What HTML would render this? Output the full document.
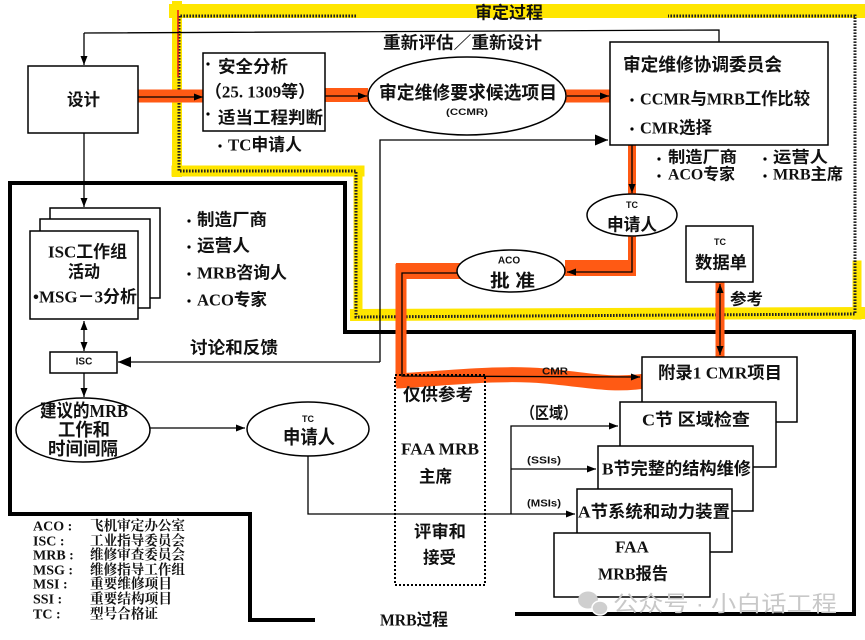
<!DOCTYPE html>
<html><head><meta charset="utf-8"><style>
html,body{margin:0;padding:0;background:#fff;}
svg{display:block;}
.h{font-family:"Liberation Sans","Noto Sans CJK SC",sans-serif;font-weight:bold;}
.s{font-family:"Liberation Serif","Noto Sans CJK SC",serif;font-weight:bold;}
.l{font-family:"Liberation Serif","Noto Serif CJK SC",serif;font-weight:bold;}
text{dominant-baseline:central;fill:#111;}
</style></head><body>
<svg width="865" height="640" viewBox="0 0 865 640" xmlns="http://www.w3.org/2000/svg">
<defs>
<marker id="ar" markerUnits="userSpaceOnUse" markerWidth="9" markerHeight="8" refX="9" refY="4" orient="auto-start-reverse"><path d="M0,0.5 L9,4 L0,7.5z" fill="#000"/></marker>
<marker id="ab" markerUnits="userSpaceOnUse" markerWidth="13" markerHeight="11" refX="13" refY="5.5" orient="auto-start-reverse"><path d="M0,0 L13,5.5 L0,11z" fill="#000"/></marker>
</defs>
<rect width="865" height="640" fill="#fff"/>

<!-- yellow highlight -->
<g stroke="#ffe600" fill="none" stroke-linecap="square">
<line x1="176" y1="11" x2="860" y2="11" stroke-width="14"/>
<line x1="177" y1="6" x2="177" y2="172" stroke-width="10"/>
<line x1="177" y1="171" x2="359" y2="171" stroke-width="11"/>
<line x1="358" y1="171" x2="358" y2="315" stroke-width="9"/>
<line x1="356" y1="315" x2="859" y2="313" stroke-width="12"/>
<line x1="857" y1="265" x2="857" y2="315" stroke-width="9"/>
</g>
<!-- checkered border -->
<path d="M356,16 L179,16 L179,171 L356,171 L356,317 L855,314 L855,16 L668,16" fill="none" stroke="#222" stroke-width="3" stroke-dasharray="1.6 1.4"/>
<line x1="178" y1="10" x2="178" y2="77" stroke="#e8141e" stroke-width="1.5"/>

<!-- thick MRB border -->
<path d="M10,514 L10,183 L345,183 L345,332 L854,332 L854,614 L515,614" fill="none" stroke="#000" stroke-width="4"/>
<path d="M8,514 L250,514 L250,620 L315,620" fill="none" stroke="#000" stroke-width="4"/>

<!-- orange highlights -->
<g stroke="#ff5a14" fill="none">
<line x1="135" y1="96" x2="205" y2="96" stroke-width="13"/>
<line x1="325" y1="95" x2="368" y2="95" stroke-width="14"/>
<line x1="565" y1="96" x2="610" y2="96" stroke-width="13"/>
<line x1="632" y1="143" x2="632" y2="194" stroke-width="8"/>
<line x1="632" y1="236" x2="632" y2="276" stroke-width="8"/>
<line x1="565" y1="268" x2="636" y2="268" stroke-width="16"/>
<line x1="396" y1="271" x2="463" y2="271" stroke-width="16"/>
<line x1="401" y1="264" x2="401" y2="386" stroke-width="11"/>
<path d="M396,381 C450,378 500,372 545,376 S610,386 645,381" stroke-width="15"/>
<line x1="720" y1="282" x2="720" y2="357" stroke-width="9"/>
</g>

<!-- thin loop 重新评估 -->
<path d="M84,33 L719,30 L719,42" fill="none" stroke="#000" stroke-width="1.3"/>
<line x1="84" y1="33" x2="84" y2="65" stroke="#000" stroke-width="1.3" marker-end="url(#ar)"/>

<!-- design box -->
<rect x="28" y="66" width="110" height="67" fill="#fff" stroke="#000" stroke-width="1.5"/>
<text class="h" x="67" y="100" font-size="17" textLength="33" lengthAdjust="spacingAndGlyphs">设计</text>

<!-- arrows top row -->
<g stroke="#000" stroke-width="1.3" fill="none">
<line x1="138" y1="97" x2="203" y2="97" marker-end="url(#ar)"/>
<line x1="325" y1="96" x2="367" y2="96" marker-end="url(#ar)"/>
<line x1="567" y1="96" x2="609" y2="96" marker-end="url(#ar)"/>
</g>

<!-- safety box -->
<rect x="203" y="53" width="122" height="78" fill="#fff" stroke="#000" stroke-width="1.5"/>
<circle cx="208" cy="64" r="1.6" fill="#000"/>
<text class="h" x="218" y="67" font-size="17" textLength="70" lengthAdjust="spacingAndGlyphs">安全分析</text>
<text class="s" x="205" y="92" font-size="17" textLength="110" lengthAdjust="spacingAndGlyphs">（25. 1309等）</text>
<circle cx="208" cy="114" r="1.6" fill="#000"/>
<text class="h" x="218" y="118" font-size="17" textLength="105" lengthAdjust="spacingAndGlyphs">适当工程判断</text>
<circle cx="220" cy="146" r="1.6" fill="#000"/>
<text class="s" x="228" y="145" font-size="17" textLength="74" lengthAdjust="spacingAndGlyphs">TC申请人</text>

<!-- CCMR ellipse -->
<ellipse cx="467" cy="96" rx="99" ry="39" fill="#fff" stroke="#000" stroke-width="1.5"/>
<text class="h" x="379" y="93" font-size="18" textLength="178" lengthAdjust="spacingAndGlyphs">审定维修要求候选项目</text>
<text class="h" x="446" y="112" font-size="9" textLength="42" lengthAdjust="spacingAndGlyphs">(CCMR)</text>

<text class="h" x="475" y="13" font-size="17" textLength="68" lengthAdjust="spacingAndGlyphs">审定过程</text>
<text class="h" x="383" y="43" font-size="17" textLength="159" lengthAdjust="spacingAndGlyphs">重新评估／重新设计</text>

<!-- committee box -->
<rect x="610" y="42" width="218" height="103" fill="#fff" stroke="#000" stroke-width="1.5"/>
<text class="h" x="623" y="65" font-size="18" textLength="159" lengthAdjust="spacingAndGlyphs">审定维修协调委员会</text>
<circle cx="632" cy="100" r="1.6" fill="#000"/>
<text class="s" x="640" y="99" font-size="17" textLength="170" lengthAdjust="spacingAndGlyphs">CCMR与MRB工作比较</text>
<circle cx="632" cy="129" r="1.6" fill="#000"/>
<text class="s" x="640" y="128" font-size="17" textLength="72" lengthAdjust="spacingAndGlyphs">CMR选择</text>

<circle cx="659" cy="159" r="1.6" fill="#000"/>
<text class="h" x="668" y="158" font-size="16" textLength="69" lengthAdjust="spacingAndGlyphs">制造厂商</text>
<circle cx="765" cy="159" r="1.6" fill="#000"/>
<text class="h" x="773" y="158" font-size="16" textLength="55" lengthAdjust="spacingAndGlyphs">运营人</text>
<circle cx="659" cy="176" r="1.6" fill="#000"/>
<text class="s" x="668" y="175" font-size="16" textLength="67" lengthAdjust="spacingAndGlyphs">ACO专家</text>
<circle cx="765" cy="176" r="1.6" fill="#000"/>
<text class="s" x="773" y="175" font-size="16" textLength="70" lengthAdjust="spacingAndGlyphs">MRB主席</text>

<!-- feedback line -->
<path d="M380,362 L380,140 L608,140" fill="none" stroke="#000" stroke-width="1.3" marker-end="url(#ab)"/>
<line x1="380" y1="362" x2="118" y2="362" stroke="#000" stroke-width="1.3" marker-end="url(#ab)"/>

<!-- upper TC ellipse -->
<line x1="632" y1="145" x2="632" y2="193" stroke="#000" stroke-width="1.3" marker-end="url(#ar)"/>
<ellipse cx="632" cy="215" rx="45" ry="21" fill="#fff" stroke="#000" stroke-width="1.5"/>
<text class="h" x="632" y="205" font-size="9" text-anchor="middle">TC</text>
<text class="h" x="607" y="225" font-size="17" textLength="50" lengthAdjust="spacingAndGlyphs">申请人</text>
<path d="M632,237 L632,272 L567,272" fill="none" stroke="#000" stroke-width="1.3" marker-end="url(#ar)"/>

<!-- ACO ellipse -->
<ellipse cx="511" cy="271" rx="54" ry="21" fill="#fff" stroke="#000" stroke-width="1.5"/>
<text class="h" x="509" y="261" font-size="10" text-anchor="middle">ACO</text>
<text class="h" x="490" y="281" font-size="18" textLength="45" lengthAdjust="spacingAndGlyphs">批 准</text>
<path d="M457,273 L402,273 L402,376 L640,377" fill="none" stroke="#000" stroke-width="1.3" marker-end="url(#ar)"/>
<text class="h" x="542" y="372" font-size="10" textLength="26" lengthAdjust="spacingAndGlyphs">CMR</text>

<!-- TC data box -->
<rect x="686" y="226" width="67" height="56" fill="#fff" stroke="#000" stroke-width="1.5"/>
<text class="h" x="720" y="242" font-size="9" text-anchor="middle">TC</text>
<text class="h" x="695" y="263" font-size="17" textLength="52" lengthAdjust="spacingAndGlyphs">数据单</text>
<line x1="720" y1="284" x2="720" y2="355" stroke="#000" stroke-width="1.3" marker-start="url(#ar)" marker-end="url(#ar)"/>
<text class="h" x="730" y="300" font-size="16" textLength="33" lengthAdjust="spacingAndGlyphs">参考</text>

<!-- ISC stacked boxes -->
<line x1="84" y1="133" x2="84" y2="207" stroke="#000" stroke-width="1.3" marker-end="url(#ar)"/>
<rect x="50" y="208" width="110" height="90" fill="#fff" stroke="#000" stroke-width="1.5"/>
<rect x="40" y="219" width="110" height="89" fill="#fff" stroke="#000" stroke-width="1.5"/>
<rect x="30" y="231" width="108" height="88" fill="#fff" stroke="#000" stroke-width="1.5"/>
<text class="s" x="48" y="252" font-size="17" textLength="79" lengthAdjust="spacingAndGlyphs">ISC工作组</text>
<text class="h" x="68" y="272" font-size="17" textLength="32" lengthAdjust="spacingAndGlyphs">活动</text>
<text class="s" x="33" y="297" font-size="17" textLength="104" lengthAdjust="spacingAndGlyphs">•MSG－3分析</text>

<circle cx="189" cy="221" r="1.6" fill="#000"/>
<text class="h" x="197" y="220" font-size="17" textLength="70" lengthAdjust="spacingAndGlyphs">制造厂商</text>
<circle cx="189" cy="247" r="1.6" fill="#000"/>
<text class="h" x="197" y="246" font-size="17" textLength="53" lengthAdjust="spacingAndGlyphs">运营人</text>
<circle cx="189" cy="274" r="1.6" fill="#000"/>
<text class="s" x="197" y="273" font-size="17" textLength="90" lengthAdjust="spacingAndGlyphs">MRB咨询人</text>
<circle cx="189" cy="301" r="1.6" fill="#000"/>
<text class="s" x="197" y="300" font-size="17" textLength="70" lengthAdjust="spacingAndGlyphs">ACO专家</text>

<text class="h" x="190" y="348" font-size="17" textLength="88" lengthAdjust="spacingAndGlyphs">讨论和反馈</text>

<line x1="84" y1="321" x2="84" y2="351" stroke="#000" stroke-width="1.3" marker-start="url(#ar)" marker-end="url(#ar)"/>
<rect x="50" y="352" width="67" height="21" fill="#fff" stroke="#000" stroke-width="1.5"/>
<text class="h" x="84" y="362" font-size="10" text-anchor="middle">ISC</text>
<line x1="84" y1="373" x2="84" y2="397" stroke="#000" stroke-width="1.3" marker-end="url(#ar)"/>

<!-- 建议 ellipse -->
<ellipse cx="83" cy="430" rx="67" ry="32" fill="#fff" stroke="#000" stroke-width="1.5"/>
<text class="s" x="40" y="411" font-size="18" textLength="88" lengthAdjust="spacingAndGlyphs">建议的MRB</text>
<text class="h" x="58" y="430" font-size="18" textLength="52" lengthAdjust="spacingAndGlyphs">工作和</text>
<text class="h" x="48" y="449" font-size="18" textLength="70" lengthAdjust="spacingAndGlyphs">时间间隔</text>
<line x1="150" y1="428" x2="245" y2="428" stroke="#000" stroke-width="1.3" marker-end="url(#ar)"/>

<!-- lower TC ellipse -->
<ellipse cx="308" cy="429" rx="61" ry="27" fill="#fff" stroke="#000" stroke-width="1.5"/>
<text class="h" x="308" y="419" font-size="9" text-anchor="middle">TC</text>
<text class="h" x="283" y="438" font-size="19" textLength="52" lengthAdjust="spacingAndGlyphs">申请人</text>

<!-- right stacked boxes -->
<rect x="642" y="357" width="155" height="65" fill="#fff" stroke="#000" stroke-width="1.5"/>
<text class="s" x="658" y="373" font-size="17" textLength="124" lengthAdjust="spacingAndGlyphs">附录1 CMR项目</text>
<rect x="620" y="402" width="156" height="65" fill="#fff" stroke="#000" stroke-width="1.5"/>
<text class="s" x="642" y="420" font-size="17" textLength="108" lengthAdjust="spacingAndGlyphs">C节 区域检查</text>
<rect x="598" y="446" width="155" height="65" fill="#fff" stroke="#000" stroke-width="1.5"/>
<text class="s" x="602" y="469" font-size="17" textLength="149" lengthAdjust="spacingAndGlyphs">B节完整的结构维修</text>
<rect x="577" y="489" width="155" height="63" fill="#fff" stroke="#000" stroke-width="1.5"/>
<text class="s" x="578" y="512" font-size="17" textLength="152" lengthAdjust="spacingAndGlyphs">A节系统和动力装置</text>
<rect x="554" y="533" width="156" height="64" fill="#fff" stroke="#000" stroke-width="1.5"/>
<text class="s" x="632" y="547" font-size="17" text-anchor="middle">FAA</text>
<text class="s" x="598" y="574" font-size="17" textLength="70" lengthAdjust="spacingAndGlyphs">MRB报告</text>

<!-- branch lines -->
<path d="M308,456 L308,514 L575,514" fill="none" stroke="#000" stroke-width="1.3" marker-end="url(#ar)"/>
<path d="M511,514 L511,426 L618,426" fill="none" stroke="#000" stroke-width="1.3" marker-end="url(#ar)"/>
<line x1="511" y1="469" x2="596" y2="469" stroke="#000" stroke-width="1.3" marker-end="url(#ar)"/>
<text class="h" x="521" y="414" font-size="16" textLength="56" lengthAdjust="spacingAndGlyphs">（区域）</text>
<text class="h" x="527" y="461" font-size="10" textLength="34" lengthAdjust="spacingAndGlyphs">(SSIs)</text>
<text class="h" x="527" y="504" font-size="10" textLength="34" lengthAdjust="spacingAndGlyphs">(MSIs)</text>

<!-- dotted box -->
<rect x="395" y="375" width="90" height="210" fill="none" stroke="#000" stroke-width="2" stroke-dasharray="2 2"/>
<text class="h" x="403" y="395" font-size="17" textLength="70" lengthAdjust="spacingAndGlyphs">仅供参考</text>
<text class="s" x="401" y="449" font-size="17" textLength="78" lengthAdjust="spacingAndGlyphs">FAA MRB</text>
<text class="h" x="419" y="477" font-size="17" textLength="33" lengthAdjust="spacingAndGlyphs">主席</text>
<text class="h" x="414" y="532" font-size="17" textLength="52" lengthAdjust="spacingAndGlyphs">评审和</text>
<text class="h" x="423" y="558" font-size="17" textLength="33" lengthAdjust="spacingAndGlyphs">接受</text>

<text class="s" x="380" y="620" font-size="17" textLength="68" lengthAdjust="spacingAndGlyphs">MRB过程</text>

<!-- watermark -->
<g fill="#cfcfcf">
<ellipse cx="588" cy="600" rx="10" ry="8.5"/>
<ellipse cx="600" cy="608" rx="8" ry="7" stroke="#fff" stroke-width="1.5"/>
</g>
<text x="613" y="604" font-size="22" textLength="224" lengthAdjust="spacingAndGlyphs" style="font-family:'Liberation Sans','Noto Sans CJK SC',sans-serif;fill:#c8c8c8;">公众号 · 小白话工程</text>

<!-- legend -->
<g class="l" font-size="14">
<text x="33" y="527">ACO :</text><text x="90" y="527" textLength="95" lengthAdjust="spacingAndGlyphs">飞机审定办公室</text>
<text x="33" y="542">ISC :</text><text x="90" y="542" textLength="95" lengthAdjust="spacingAndGlyphs">工业指导委员会</text>
<text x="33" y="556">MRB :</text><text x="90" y="556" textLength="95" lengthAdjust="spacingAndGlyphs">维修审查委员会</text>
<text x="33" y="571">MSG :</text><text x="90" y="571" textLength="95" lengthAdjust="spacingAndGlyphs">维修指导工作组</text>
<text x="33" y="585">MSI :</text><text x="90" y="585" textLength="82" lengthAdjust="spacingAndGlyphs">重要维修项目</text>
<text x="33" y="600">SSI :</text><text x="90" y="600" textLength="82" lengthAdjust="spacingAndGlyphs">重要结构项目</text>
<text x="33" y="615">TC :</text><text x="90" y="615" textLength="68" lengthAdjust="spacingAndGlyphs">型号合格证</text>
</g>
</svg>
</body></html>
